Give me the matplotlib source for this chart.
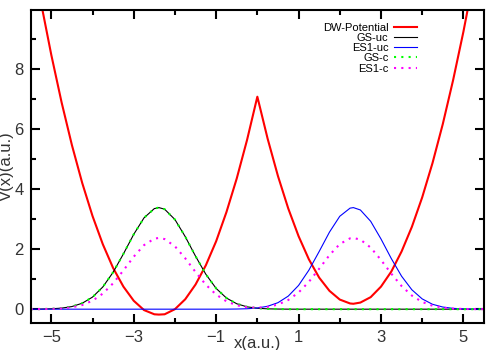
import matplotlib
matplotlib.use("Agg")
import matplotlib.pyplot as plt

plt.rcParams['font.family'] = ['Liberation Sans', 'DejaVu Sans']

# values
x_au = [-5.5, -5.25, -5.0, -4.75, -4.5, -4.25, -4.0, -3.75, -3.5, -3.25,
        -3.0, -2.75, -2.5, -2.39, -2.25, -2.0, -1.75, -1.5, -1.25, -1.0,
        -0.75, -0.5, -0.25, 0.0, 0.25, 0.5, 0.75, 1.0, 1.25, 1.5,
        1.75, 2.0, 2.25, 2.33, 2.5, 2.75, 3.0, 3.25, 3.5, 3.75,
        4.0, 4.25, 4.5, 4.75, 5.0, 5.25, 5.5]

dw_potential = [12.09, 10.20, 8.46, 6.88, 5.46, 4.20, 3.10, 2.16, 1.37, 0.75,
                0.28, -0.03, -0.17, -0.18, -0.17, 0.00, 0.33, 0.82, 1.46, 2.26,
                3.23, 4.35, 5.63, 7.07, 5.67, 4.43, 3.35, 2.43, 1.66, 1.05,
                0.61, 0.32, 0.19, 0.18, 0.22, 0.40, 0.75, 1.25, 1.92, 2.74,
                3.72, 4.86, 6.16, 7.62, 9.23, 11.01, 12.94]

gs_uc = [0.001, 0.004, 0.013, 0.035, 0.087, 0.197, 0.402, 0.739, 1.228, 1.840,
         2.490, 3.039, 3.347, 3.38, 3.326, 2.983, 2.414, 1.763, 1.162, 0.691,
         0.371, 0.180, 0.078, 0.031, 0.011, 0.004, 0.001, 0, 0, 0,
         0, 0, 0, 0, 0, 0, 0, 0, 0, 0,
         0, 0, 0, 0, 0, 0, 0]

es1_uc = [0, 0, 0, 0, 0, 0, 0, 0, 0, 0,
          0, 0, 0, 0, 0, 0, 0, 0, 0, 0,
          0.001, 0.005, 0.014, 0.039, 0.097, 0.216, 0.435, 0.790, 1.297, 1.919,
          2.564, 3.091, 3.362, 3.38, 3.301, 2.924, 2.337, 1.686, 1.097, 0.645,
          0.342, 0.163, 0.071, 0.027, 0.010, 0.003, 0.001]

gs_c = [0.001, 0.004, 0.013, 0.035, 0.087, 0.197, 0.402, 0.739, 1.228, 1.840,
        2.490, 3.039, 3.347, 3.38, 3.326, 2.983, 2.414, 1.763, 1.162, 0.691,
        0.371, 0.180, 0.078, 0.031, 0.011, 0.004, 0.001, 0, 0, 0,
        0, 0, 0, 0, 0, 0, 0, 0, 0, 0,
        0, 0, 0, 0, 0, 0, 0]

es1_c = [0.001, 0.003, 0.009, 0.025, 0.061, 0.138, 0.282, 0.518, 0.861, 1.290,
         1.746, 2.131, 2.347, 2.37, 2.332, 2.092, 1.693, 1.236, 0.815, 0.485,
         0.261, 0.130, 0.065, 0.049, 0.076, 0.154, 0.306, 0.554, 0.909, 1.346,
         1.798, 2.167, 2.357, 2.37, 2.315, 2.050, 1.639, 1.182, 0.769, 0.452,
         0.240, 0.114, 0.050, 0.019, 0.007, 0.002, 0.001]

x_major = [-5, -3, -1, 1, 3, 5]
x_minor = [-4, -2, 0, 2, 4]
y_major = [0, 2, 4, 6, 8]
y_minor = [1, 3, 5, 7, 9]

fig = plt.figure(figsize=(5, 3.5), dpi=100)
ax = fig.add_axes([0.0614, 0.078, 0.9066, 0.893])

dots = (0, (1, 2.5))
common = dict(solid_joinstyle='round', dash_joinstyle='round')
ax.plot(x_au, dw_potential, color='#ff0000', lw=1.5, label='DW-Potential', **common)
ax.plot(x_au, gs_uc, color='black', lw=0.8, label='GS-uc', **common)
ax.plot(x_au, es1_uc, color='#0000ff', lw=0.8, label='ES1-uc', **common)
ax.plot(x_au, gs_c, color='#00ff00', lw=1.5, ls=dots, label='GS-c')
ax.plot(x_au, es1_c, color='#ff00ff', lw=1.5, ls=dots, label='ES1-c')

ax.set_xlim(-5.5, 5.5)
ax.set_ylim(-0.45, 9.95)
ax.set_xticks(x_major)
ax.set_xticks(x_minor, minor=True)
ax.set_yticks(y_major)
ax.set_yticks(y_minor, minor=True)

for s in ax.spines.values():
    s.set_linewidth(1.5)
ax.tick_params(which='both', direction='in', top=True, right=True,
               width=1.5, labelsize=12, labelcolor='#333333')
ax.tick_params(which='major', length=6.5, pad=5)
ax.tick_params(which='minor', length=3.5)

ax.set_xlabel('x(a.u.)', fontsize=12, color='#333333', labelpad=-6)
ax.set_ylabel('V(x)(a.u.)', fontsize=12, color='#333333', labelpad=0)

ax.legend(loc='upper right', bbox_to_anchor=(0.852, 0.96), frameon=False,
          markerfirst=False, fontsize=8, borderpad=0, borderaxespad=0,
          handlelength=2.1, handletextpad=0.45, labelspacing=0.02)

fig.savefig('out.png', dpi=100)
